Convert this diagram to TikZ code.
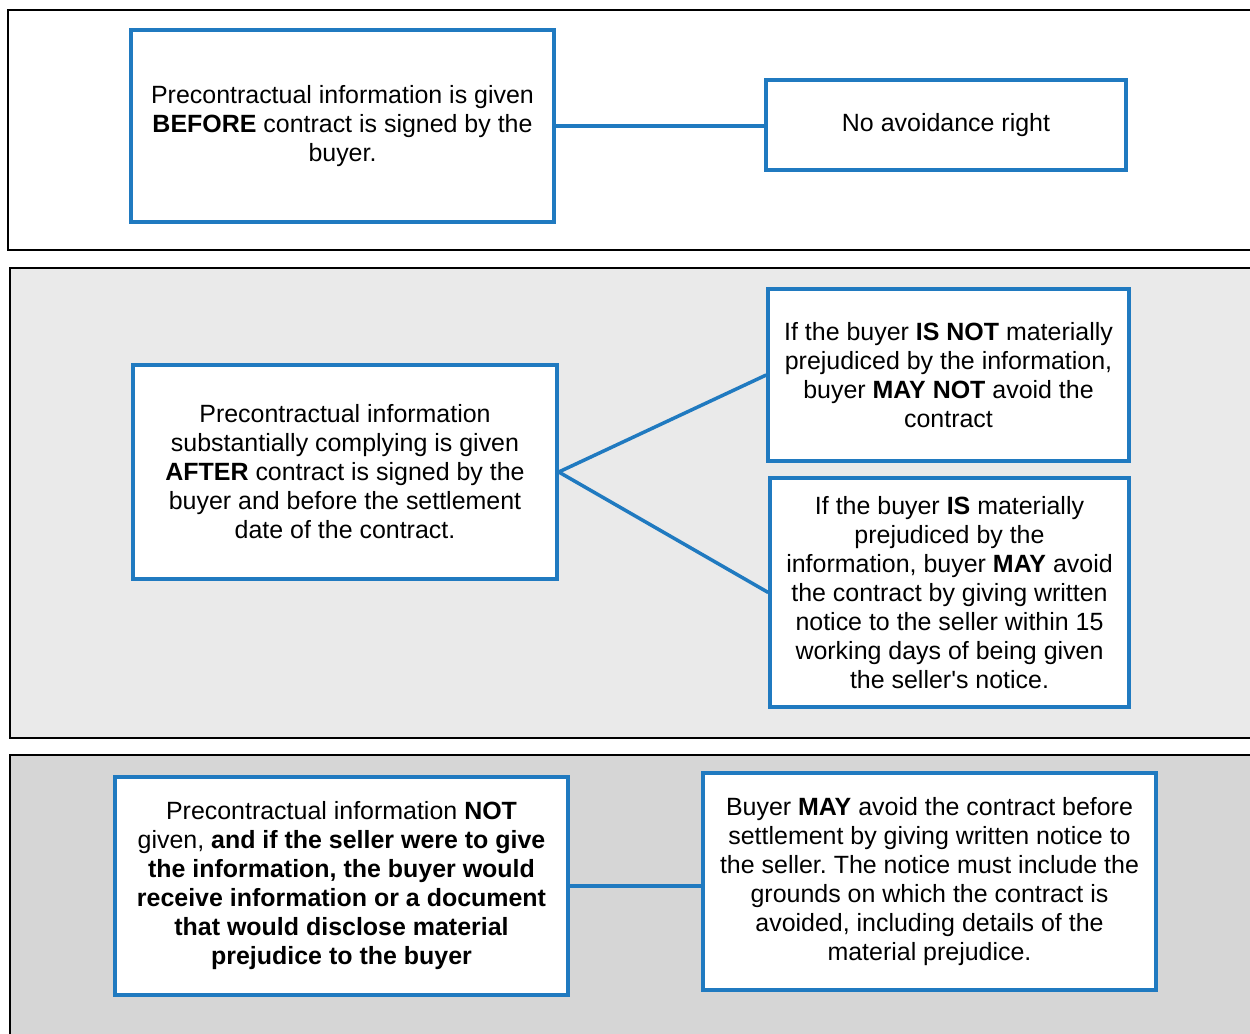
\documentclass[tikz,border=0pt]{standalone}
\usepackage{fontspec}
\setmainfont{Liberation Sans}
\usepackage{xcolor}
\usetikzlibrary{positioning}
\definecolor{boxblue}{RGB}{32,122,192}
\definecolor{midgray}{RGB}{234,234,234}
\definecolor{lowgray}{RGB}{214,214,214}
\frenchspacing

\begin{document}
\begin{tikzpicture}[
		panel/.style={draw=black, line width=1.2pt},
		infobox/.style={draw=boxblue, line width=2pt, fill=white, align=center, inner sep=0pt,
			font=\fontsize{14.2}{16.5}\selectfont},
		link/.style={draw=boxblue, line width=2pt}
	]
			\useasboundingbox (0,0) rectangle (25,-20.68);
			\fill[white] (0,0) rectangle (25,-20.68);
			
			\draw[panel, fill=white] (0.16,-0.2) rectangle (25.3,-5.0);
			\draw[panel, fill=midgray] (0.2,-5.36) rectangle (25.3,-14.76);
			\draw[panel, fill=lowgray] (0.2,-15.1) rectangle (25.3,-21);
			
			\node[infobox, minimum width=8.46cm, minimum height=3.84cm] (before) at (6.85,-2.52)
				{Precontractual information is given\\ \textbf{BEFORE} contract is signed by the\\ buyer.};
			\node[infobox, minimum width=7.2cm, minimum height=1.8cm] (noright) at (18.92,-2.5)
				{No avoidance right};
			\draw[link] (before.east) -- (before.east -| noright.west);
			
			\node[infobox, minimum width=8.48cm, minimum height=4.28cm] (after) at (6.9,-9.44)
				{Precontractual information\\ substantially complying is given\\ \textbf{AFTER} contract is signed by the\\ buyer and before the settlement\\ date of the contract.};
			\node[infobox, minimum width=7.22cm, minimum height=3.44cm] (notpre) at (18.97,-7.5)
				{If the buyer \textbf{IS NOT} materially\\ prejudiced by the information,\\ buyer \textbf{MAY NOT} avoid the\\ contract};
			\node[infobox, minimum width=7.18cm, minimum height=4.58cm] (ispre) at (18.99,-11.85)
				{If the buyer \textbf{IS} materially\\ prejudiced by the\\ information, buyer \textbf{MAY} avoid\\ the contract by giving written\\ notice to the seller within 15\\ working days of being given\\ the seller\textquotesingle s notice.};
			\draw[link] (after.east) -- (notpre.west);
			\draw[link] (after.east) -- (ispre.west);
			
			\node[infobox, minimum width=9.06cm, minimum height=4.36cm] (notgiven) at (6.83,-17.72)
				{Precontractual information \textbf{NOT}\\ given, \textbf{and if the seller were to give}\\ \textbf{the information, the buyer would}\\ \textbf{receive information or a document}\\ \textbf{that would disclose material}\\ \textbf{prejudice to the buyer}};
			\node[infobox, minimum width=9.06cm, minimum height=4.34cm] (mayavoid) at (18.59,-17.63)
				{Buyer \textbf{MAY} avoid the contract before\\ settlement by giving written notice to\\ the seller. The notice must include the\\ grounds on which the contract is\\ avoided, including details of the\\ material prejudice.};
			\draw[link] (notgiven.east) -- (notgiven.east -| mayavoid.west);
\end{tikzpicture}
\end{document}
